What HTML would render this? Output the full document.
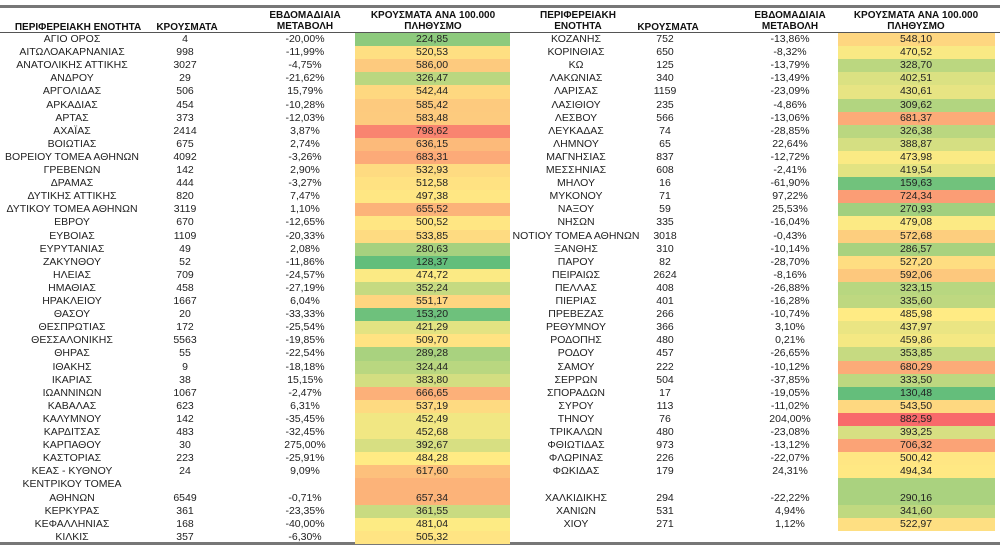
<!DOCTYPE html>
<html><head><meta charset="utf-8">
<style>
html,body{margin:0;padding:0;background:#fff;}
#c{position:relative;width:1000px;height:549px;overflow:hidden;font-family:"Liberation Sans Narrow","Liberation Sans","DejaVu Sans Condensed",sans-serif;font-size:10.5px;color:#222;}
.t{position:absolute;white-space:nowrap;transform:translateX(-50%);line-height:13px;}
.h{font-weight:bold;font-size:10px;color:#111;text-align:center;line-height:11px;}
.b{position:absolute;}
</style></head><body><div id="c">
<div class="b" style="left:0;top:5px;width:1000px;height:3px;background:#777"></div>
<div class="b" style="left:0;top:32px;width:1000px;height:1px;background:#555"></div>
<div class="b" style="left:0;top:542px;width:1000px;height:3px;background:#777"></div>
<div class="t h" style="left:78px;top:22px">ΠΕΡΙΦΕΡΕΙΑΚΗ ΕΝΟΤΗΤΑ</div>
<div class="t h" style="left:187px;top:22px">ΚΡΟΥΣΜΑΤΑ</div>
<div class="t h" style="left:305px;top:10px">ΕΒΔΟΜΑΔΙΑΙΑ<br>ΜΕΤΑΒΟΛΗ</div>
<div class="t h" style="left:433px;top:10px">ΚΡΟΥΣΜΑΤΑ ΑΝΑ 100.000<br>ΠΛΗΘΥΣΜΟ</div>
<div class="t h" style="left:578px;top:10px">ΠΕΡΙΦΕΡΕΙΑΚΗ<br>ΕΝΟΤΗΤΑ</div>
<div class="t h" style="left:668px;top:22px">ΚΡΟΥΣΜΑΤΑ</div>
<div class="t h" style="left:790px;top:10px">ΕΒΔΟΜΑΔΙΑΙΑ<br>ΜΕΤΑΒΟΛΗ</div>
<div class="t h" style="left:916px;top:10px">ΚΡΟΥΣΜΑΤΑ ΑΝΑ 100.000<br>ΠΛΗΘΥΣΜΟ</div>
</div>
<script>
var L=[["ΑΓΙΟ ΟΡΟΣ",4,"-20,00%","224,85"],["ΑΙΤΩΛΟΑΚΑΡΝΑΝΙΑΣ",998,"-11,99%","520,53"],["ΑΝΑΤΟΛΙΚΗΣ ΑΤΤΙΚΗΣ",3027,"-4,75%","586,00"],["ΑΝΔΡΟΥ",29,"-21,62%","326,47"],["ΑΡΓΟΛΙΔΑΣ",506,"15,79%","542,44"],["ΑΡΚΑΔΙΑΣ",454,"-10,28%","585,42"],["ΑΡΤΑΣ",373,"-12,03%","583,48"],["ΑΧΑΪΑΣ",2414,"3,87%","798,62"],["ΒΟΙΩΤΙΑΣ",675,"2,74%","636,15"],["ΒΟΡΕΙΟΥ ΤΟΜΕΑ ΑΘΗΝΩΝ",4092,"-3,26%","683,31"],["ΓΡΕΒΕΝΩΝ",142,"2,90%","532,93"],["ΔΡΑΜΑΣ",444,"-3,27%","512,58"],["ΔΥΤΙΚΗΣ ΑΤΤΙΚΗΣ",820,"7,47%","497,38"],["ΔΥΤΙΚΟΥ ΤΟΜΕΑ ΑΘΗΝΩΝ",3119,"1,10%","655,52"],["ΕΒΡΟΥ",670,"-12,65%","500,52"],["ΕΥΒΟΙΑΣ",1109,"-20,33%","533,85"],["ΕΥΡΥΤΑΝΙΑΣ",49,"2,08%","280,63"],["ΖΑΚΥΝΘΟΥ",52,"-11,86%","128,37"],["ΗΛΕΙΑΣ",709,"-24,57%","474,72"],["ΗΜΑΘΙΑΣ",458,"-27,19%","352,24"],["ΗΡΑΚΛΕΙΟΥ",1667,"6,04%","551,17"],["ΘΑΣΟΥ",20,"-33,33%","153,20"],["ΘΕΣΠΡΩΤΙΑΣ",172,"-25,54%","421,29"],["ΘΕΣΣΑΛΟΝΙΚΗΣ",5563,"-19,85%","509,70"],["ΘΗΡΑΣ",55,"-22,54%","289,28"],["ΙΘΑΚΗΣ",9,"-18,18%","324,44"],["ΙΚΑΡΙΑΣ",38,"15,15%","383,80"],["ΙΩΑΝΝΙΝΩΝ",1067,"-2,47%","666,65"],["ΚΑΒΑΛΑΣ",623,"6,31%","537,19"],["ΚΑΛΥΜΝΟΥ",142,"-35,45%","452,49"],["ΚΑΡΔΙΤΣΑΣ",483,"-32,45%","452,68"],["ΚΑΡΠΑΘΟΥ",30,"275,00%","392,67"],["ΚΑΣΤΟΡΙΑΣ",223,"-25,91%","484,28"],["ΚΕΑΣ - ΚΥΘΝΟΥ",24,"9,09%","617,60"],["ΚΕΝΤΡΙΚΟΥ ΤΟΜΕΑ|ΑΘΗΝΩΝ",6549,"-0,71%","657,34"],["ΚΕΡΚΥΡΑΣ",361,"-23,35%","361,55"],["ΚΕΦΑΛΛΗΝΙΑΣ",168,"-40,00%","481,04"],["ΚΙΛΚΙΣ",357,"-6,30%","505,32"]];
var R=[["ΚΟΖΑΝΗΣ",752,"-13,86%","548,10"],["ΚΟΡΙΝΘΙΑΣ",650,"-8,32%","470,52"],["ΚΩ",125,"-13,79%","328,70"],["ΛΑΚΩΝΙΑΣ",340,"-13,49%","402,51"],["ΛΑΡΙΣΑΣ",1159,"-23,09%","430,61"],["ΛΑΣΙΘΙΟΥ",235,"-4,86%","309,62"],["ΛΕΣΒΟΥ",566,"-13,06%","681,37"],["ΛΕΥΚΑΔΑΣ",74,"-28,85%","326,38"],["ΛΗΜΝΟΥ",65,"22,64%","388,87"],["ΜΑΓΝΗΣΙΑΣ",837,"-12,72%","473,98"],["ΜΕΣΣΗΝΙΑΣ",608,"-2,41%","419,54"],["ΜΗΛΟΥ",16,"-61,90%","159,63"],["ΜΥΚΟΝΟΥ",71,"97,22%","724,34"],["ΝΑΞΟΥ",59,"25,53%","270,93"],["ΝΗΣΩΝ",335,"-16,04%","479,08"],["ΝΟΤΙΟΥ ΤΟΜΕΑ ΑΘΗΝΩΝ",3018,"-0,43%","572,68"],["ΞΑΝΘΗΣ",310,"-10,14%","286,57"],["ΠΑΡΟΥ",82,"-28,70%","527,20"],["ΠΕΙΡΑΙΩΣ",2624,"-8,16%","592,06"],["ΠΕΛΛΑΣ",408,"-26,88%","323,15"],["ΠΙΕΡΙΑΣ",401,"-16,28%","335,60"],["ΠΡΕΒΕΖΑΣ",266,"-10,74%","485,98"],["ΡΕΘΥΜΝΟΥ",366,"3,10%","437,97"],["ΡΟΔΟΠΗΣ",480,"0,21%","459,86"],["ΡΟΔΟΥ",457,"-26,65%","353,85"],["ΣΑΜΟΥ",222,"-10,12%","680,29"],["ΣΕΡΡΩΝ",504,"-37,85%","333,50"],["ΣΠΟΡΑΔΩΝ",17,"-19,05%","130,48"],["ΣΥΡΟΥ",113,"-11,02%","543,50"],["ΤΗΝΟΥ",76,"204,00%","882,59"],["ΤΡΙΚΑΛΩΝ",480,"-23,08%","393,25"],["ΦΘΙΩΤΙΔΑΣ",973,"-13,12%","706,32"],["ΦΛΩΡΙΝΑΣ",226,"-22,07%","500,42"],["ΦΩΚΙΔΑΣ",179,"24,31%","494,34"],["|ΧΑΛΚΙΔΙΚΗΣ",294,"-22,22%","290,16"],["ΧΑΝΙΩΝ",531,"4,94%","341,60"],["ΧΙΟΥ",271,"1,12%","522,97"]];
var mn=128.37,mx=882.59,md=485;
function lerp(a,b,t){return a.map(function(v,i){return Math.round(v+(b[i]-v)*t)});}
function col(v){var g=[99,190,123],y=[255,235,132],r=[248,105,107],c;
 if(v<=md)c=lerp(g,y,(v-mn)/(md-mn));else c=lerp(y,r,(v-md)/(mx-md));return "rgb("+c+")";}
var C=document.getElementById("c"),H=13.1,T0=33;
function add(html,x,y){if(!html)return;var d=document.createElement("div");d.className="t";d.style.left=x+"px";d.style.top=y+"px";d.innerHTML=html;C.appendChild(d);}
function draw(rows,xs,bx,bw){var slot=0;rows.forEach(function(r){var dbl=r[0].indexOf("|")>=0;var h=dbl?2*H:H;var top=T0+slot*H;
 var b=document.createElement("div");b.className="b";b.style.cssText="left:"+bx+"px;width:"+bw+"px;top:"+top+"px;height:"+(h+0.5)+"px;background:"+col(parseFloat(r[3].replace(",",".")));C.appendChild(b);
 var ty=top+h-H;
 if(dbl){var p=r[0].split("|");add(p[0],xs[0],top);add(p[1],xs[0],ty);}else add(r[0],xs[0],ty);
 add(r[1],xs[1],ty);add(r[2],xs[2],ty);add(r[3],xs[3],ty);slot+=dbl?2:1;});}
draw(L,[72,185,305,432],355,155);
draw(R,[576,665,790,916],838,157);
</script>
</body></html>
